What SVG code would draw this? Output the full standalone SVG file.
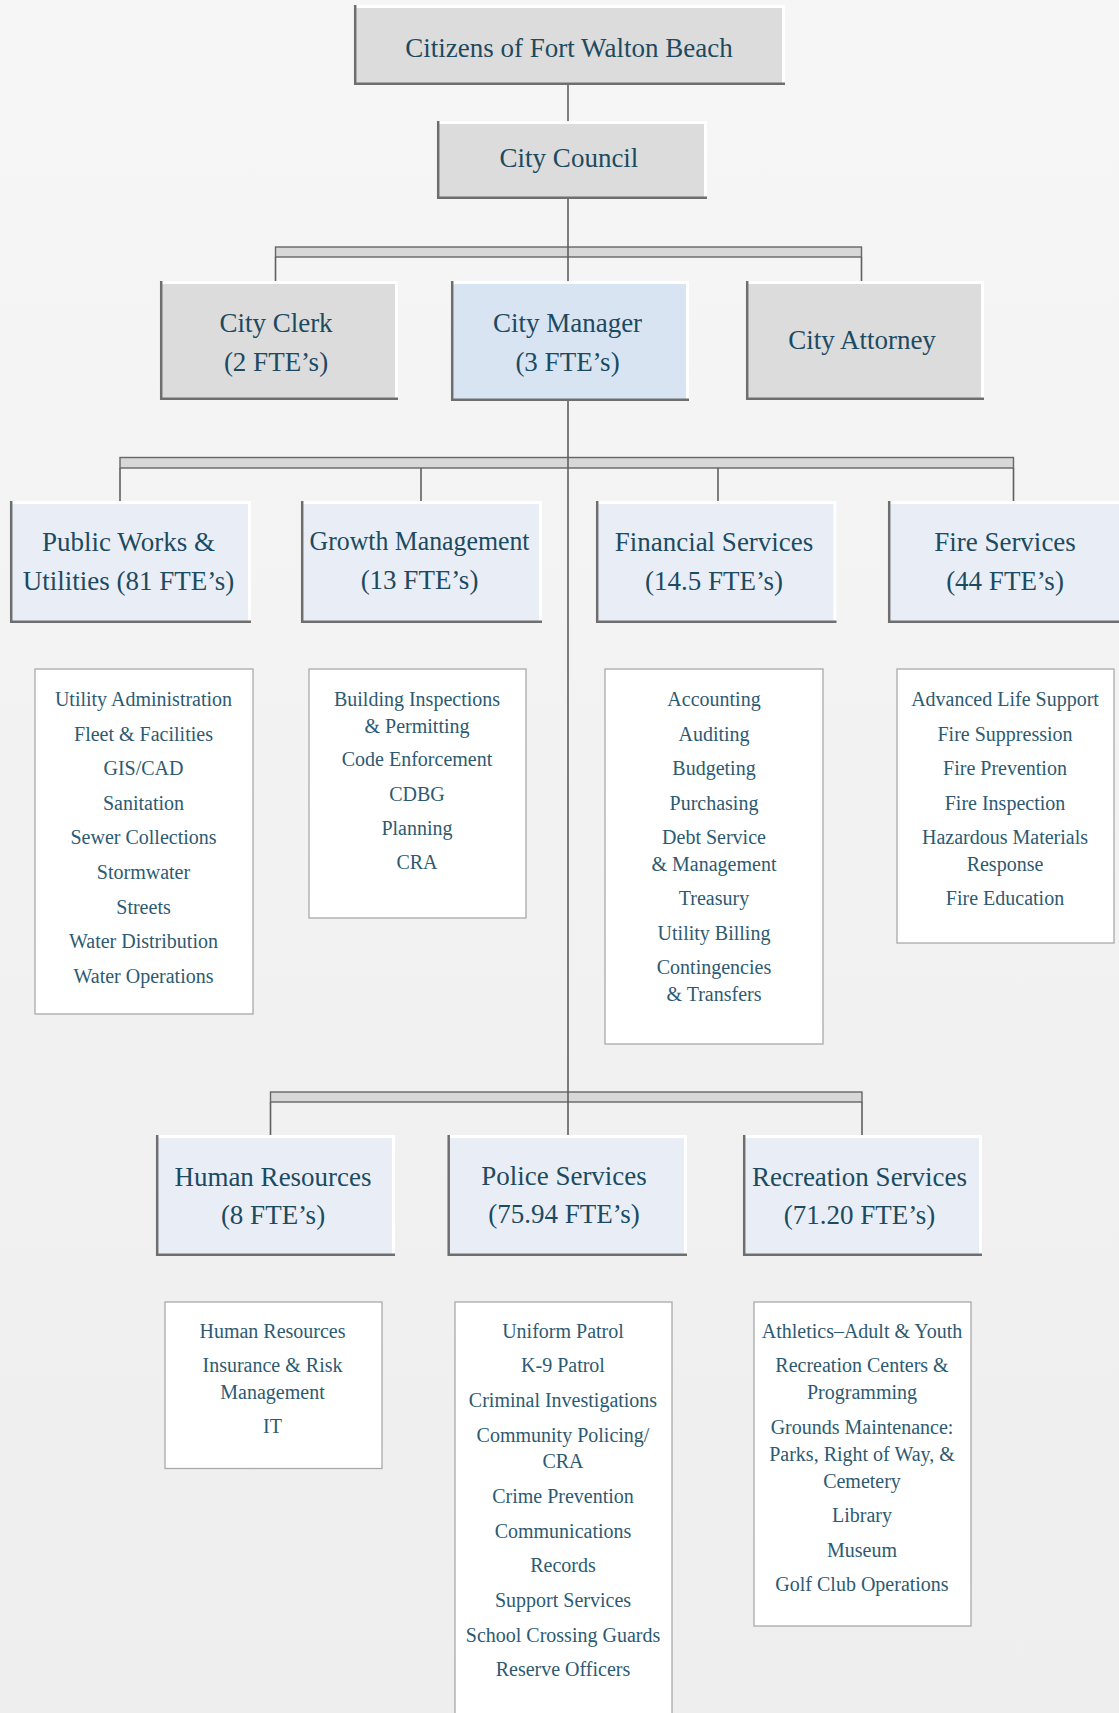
<svg xmlns="http://www.w3.org/2000/svg" width="1119" height="1713" viewBox="0 0 1119 1713">
<defs>
<linearGradient id="bg" x1="0" y1="0" x2="0" y2="1">
<stop offset="0" stop-color="#f6f6f6"/>
<stop offset="1" stop-color="#eeeeee"/>
</linearGradient>
</defs>
<style>
.gray{fill:#dcdcdc}
.mgr{fill:#d9e4f3}
.dept{fill:#e9eef6}
.hi{fill:none;stroke:#ffffff;stroke-width:3}
.lo{fill:none;stroke:#6e6e6e;stroke-width:2.5}
.list{fill:#ffffff;stroke:#aaaaaa;stroke-width:1.3}
.bar{fill:#d8d8d8;stroke:#666666;stroke-width:1.4}
.ln{stroke:#5f5f5f;stroke-width:1.6;fill:none}
.h{font-family:"Liberation Serif","Times New Roman",serif;font-size:27px;fill:#1c4a60;text-anchor:middle}
.t{font-family:"Liberation Serif","Times New Roman",serif;font-size:20px;fill:#2d5a71;text-anchor:middle}
</style>
<rect x="0" y="0" width="1119" height="1713" fill="url(#bg)"/>

<g id="connectors">
<rect class="bar" x="275.5" y="247" width="586" height="10"/>
<rect class="bar" x="120" y="457.5" width="893.5" height="10.5"/>
<rect class="bar" x="270.5" y="1092" width="591.5" height="10"/>
<line class="ln" x1="568" y1="85" x2="568" y2="121"/>
<line class="ln" x1="568" y1="199" x2="568" y2="281"/>
<line class="ln" x1="275.5" y1="257" x2="275.5" y2="281"/>
<line class="ln" x1="861.5" y1="257" x2="861.5" y2="281"/>
<line class="ln" x1="568" y1="401" x2="568" y2="1135"/>
<line class="ln" x1="120" y1="468" x2="120" y2="501"/>
<line class="ln" x1="421" y1="468" x2="421" y2="501"/>
<line class="ln" x1="718" y1="468" x2="718" y2="501"/>
<line class="ln" x1="1013.5" y1="468" x2="1013.5" y2="501"/>
<line class="ln" x1="270.5" y1="1102" x2="270.5" y2="1135"/>
<line class="ln" x1="862" y1="1102" x2="862" y2="1135"/>
</g>

<g id="citizens">
<rect class="gray" x="354" y="5" width="431" height="80"/>
<path class="hi" d="M354,6.5 H783.5 V84"/>
<path class="lo" d="M355.2,5 V83.8 H785"/>
<text class="h" x="569" y="57">Citizens of Fort Walton Beach</text>
</g>

<g id="council">
<rect class="gray" x="437" y="121" width="270" height="78"/>
<path class="hi" d="M437,122.5 H705.5 V198"/>
<path class="lo" d="M438.2,121 V197.8 H707"/>
<text class="h" x="569" y="167">City Council</text>
</g>

<g id="clerk">
<rect class="gray" x="160" y="281" width="238" height="119"/>
<path class="hi" d="M160,282.5 H396.5 V399"/>
<path class="lo" d="M161.2,281 V398.8 H398"/>
<text class="h" x="276" y="332">City Clerk</text>
<text class="h" x="276" y="371">(2 FTE’s)</text>
</g>

<g id="manager">
<rect class="mgr" x="451" y="281" width="238" height="120"/>
<path class="hi" d="M451,282.5 H687.5 V400"/>
<path class="lo" d="M452.2,281 V399.8 H689"/>
<text class="h" x="567.5" y="332">City Manager</text>
<text class="h" x="567.5" y="371">(3 FTE’s)</text>
</g>

<g id="attorney">
<rect class="gray" x="746" y="281" width="238" height="119"/>
<path class="hi" d="M746,282.5 H982.5 V399"/>
<path class="lo" d="M747.2,281 V398.8 H984"/>
<text class="h" x="862" y="349">City Attorney</text>
</g>

<g id="publicworks">
<rect class="dept" x="10" y="501" width="241" height="122"/>
<path class="hi" d="M10,502.5 H249.5 V622"/>
<path class="lo" d="M11.2,501 V621.8 H251"/>
<text class="h" x="128.5" y="551">Public Works &amp;</text>
<text class="h" x="128.5" y="590">Utilities (81 FTE’s)</text>
</g>

<g id="growth">
<rect class="dept" x="301" y="501" width="241" height="122"/>
<path class="hi" d="M301,502.5 H540.5 V622"/>
<path class="lo" d="M302.2,501 V621.8 H542"/>
<text class="h" x="419.5" y="550" textLength="220" lengthAdjust="spacingAndGlyphs">Growth Management</text>
<text class="h" x="419.5" y="589">(13 FTE’s)</text>
</g>

<g id="financial">
<rect class="dept" x="596" y="501" width="240.5" height="122"/>
<path class="hi" d="M596,502.5 H835 V622"/>
<path class="lo" d="M597.2,501 V621.8 H836.5"/>
<text class="h" x="714" y="551">Financial Services</text>
<text class="h" x="714" y="590">(14.5 FTE’s)</text>
</g>

<g id="fire">
<rect class="dept" x="888" y="501" width="240" height="122"/>
<path class="hi" d="M888,502.5 H1126.5 V622"/>
<path class="lo" d="M889.2,501 V621.8 H1128"/>
<text class="h" x="1005" y="551">Fire Services</text>
<text class="h" x="1005" y="590">(44 FTE’s)</text>
</g>

<g id="publicworks-list">
<rect class="list" x="35" y="669" width="218" height="345"/>
<text class="t" x="143.5" y="706">Utility Administration</text>
<text class="t" x="143.5" y="740.6">Fleet &amp; Facilities</text>
<text class="t" x="143.5" y="775.2">GIS/CAD</text>
<text class="t" x="143.5" y="809.8">Sanitation</text>
<text class="t" x="143.5" y="844.4">Sewer Collections</text>
<text class="t" x="143.5" y="879">Stormwater</text>
<text class="t" x="143.5" y="913.6">Streets</text>
<text class="t" x="143.5" y="948.2">Water Distribution</text>
<text class="t" x="143.5" y="982.8">Water Operations</text>
</g>

<g id="growth-list">
<rect class="list" x="309" y="669" width="217" height="249"/>
<text class="t" x="417" y="706">Building Inspections</text>
<text class="t" x="417" y="732.5">&amp; Permitting</text>
<text class="t" x="417" y="766">Code Enforcement</text>
<text class="t" x="417" y="800.5">CDBG</text>
<text class="t" x="417" y="835">Planning</text>
<text class="t" x="417" y="869">CRA</text>
</g>

<g id="financial-list">
<rect class="list" x="605" y="669" width="218" height="375"/>
<text class="t" x="714" y="706">Accounting</text>
<text class="t" x="714" y="740.6">Auditing</text>
<text class="t" x="714" y="775">Budgeting</text>
<text class="t" x="714" y="809.5">Purchasing</text>
<text class="t" x="714" y="844">Debt Service</text>
<text class="t" x="714" y="870.5">&amp; Management</text>
<text class="t" x="714" y="905">Treasury</text>
<text class="t" x="714" y="939.5">Utility Billing</text>
<text class="t" x="714" y="974">Contingencies</text>
<text class="t" x="714" y="1000.5">&amp; Transfers</text>
</g>

<g id="fire-list">
<rect class="list" x="897" y="669" width="217" height="274"/>
<text class="t" x="1005" y="706">Advanced Life Support</text>
<text class="t" x="1005" y="740.6">Fire Suppression</text>
<text class="t" x="1005" y="775">Fire Prevention</text>
<text class="t" x="1005" y="809.5">Fire Inspection</text>
<text class="t" x="1005" y="844">Hazardous Materials</text>
<text class="t" x="1005" y="870.5">Response</text>
<text class="t" x="1005" y="905">Fire Education</text>
</g>

<g id="hr">
<rect class="dept" x="156" y="1135" width="239" height="121"/>
<path class="hi" d="M156,1136.5 H393.5 V1255"/>
<path class="lo" d="M157.2,1135 V1254.8 H395"/>
<text class="h" x="273" y="1186">Human Resources</text>
<text class="h" x="273" y="1224">(8 FTE’s)</text>
</g>

<g id="police">
<rect class="dept" x="447.5" y="1135" width="239.5" height="121"/>
<path class="hi" d="M447.5,1136.5 H685.5 V1255"/>
<path class="lo" d="M448.7,1135 V1254.8 H687"/>
<text class="h" x="564" y="1184.5">Police Services</text>
<text class="h" x="564" y="1223">(75.94 FTE’s)</text>
</g>

<g id="recreation">
<rect class="dept" x="743" y="1135" width="239" height="121"/>
<path class="hi" d="M743,1136.5 H980.5 V1255"/>
<path class="lo" d="M744.2,1135 V1254.8 H982"/>
<text class="h" x="859.5" y="1186">Recreation Services</text>
<text class="h" x="859.5" y="1224">(71.20 FTE’s)</text>
</g>

<g id="hr-list">
<rect class="list" x="165" y="1302" width="217" height="166.5"/>
<text class="t" x="272.5" y="1338">Human Resources</text>
<text class="t" x="272.5" y="1372">Insurance &amp; Risk</text>
<text class="t" x="272.5" y="1399">Management</text>
<text class="t" x="272.5" y="1433">IT</text>
</g>

<g id="police-list">
<rect class="list" x="455" y="1302" width="217" height="430"/>
<text class="t" x="563" y="1338">Uniform Patrol</text>
<text class="t" x="563" y="1372">K-9 Patrol</text>
<text class="t" x="563" y="1407">Criminal Investigations</text>
<text class="t" x="563" y="1442">Community Policing/</text>
<text class="t" x="563" y="1468">CRA</text>
<text class="t" x="563" y="1503">Crime Prevention</text>
<text class="t" x="563" y="1538">Communications</text>
<text class="t" x="563" y="1572">Records</text>
<text class="t" x="563" y="1607">Support Services</text>
<text class="t" x="563" y="1642">School Crossing Guards</text>
<text class="t" x="563" y="1676">Reserve Officers</text>
</g>

<g id="recreation-list">
<rect class="list" x="754" y="1302" width="217" height="324"/>
<text class="t" x="862" y="1338">Athletics–Adult &amp; Youth</text>
<text class="t" x="862" y="1372">Recreation Centers &amp;</text>
<text class="t" x="862" y="1399">Programming</text>
<text class="t" x="862" y="1434">Grounds Maintenance:</text>
<text class="t" x="862" y="1460.5">Parks, Right of Way, &amp;</text>
<text class="t" x="862" y="1488">Cemetery</text>
<text class="t" x="862" y="1522">Library</text>
<text class="t" x="862" y="1557">Museum</text>
<text class="t" x="862" y="1591">Golf Club Operations</text>
</g>
</svg>
